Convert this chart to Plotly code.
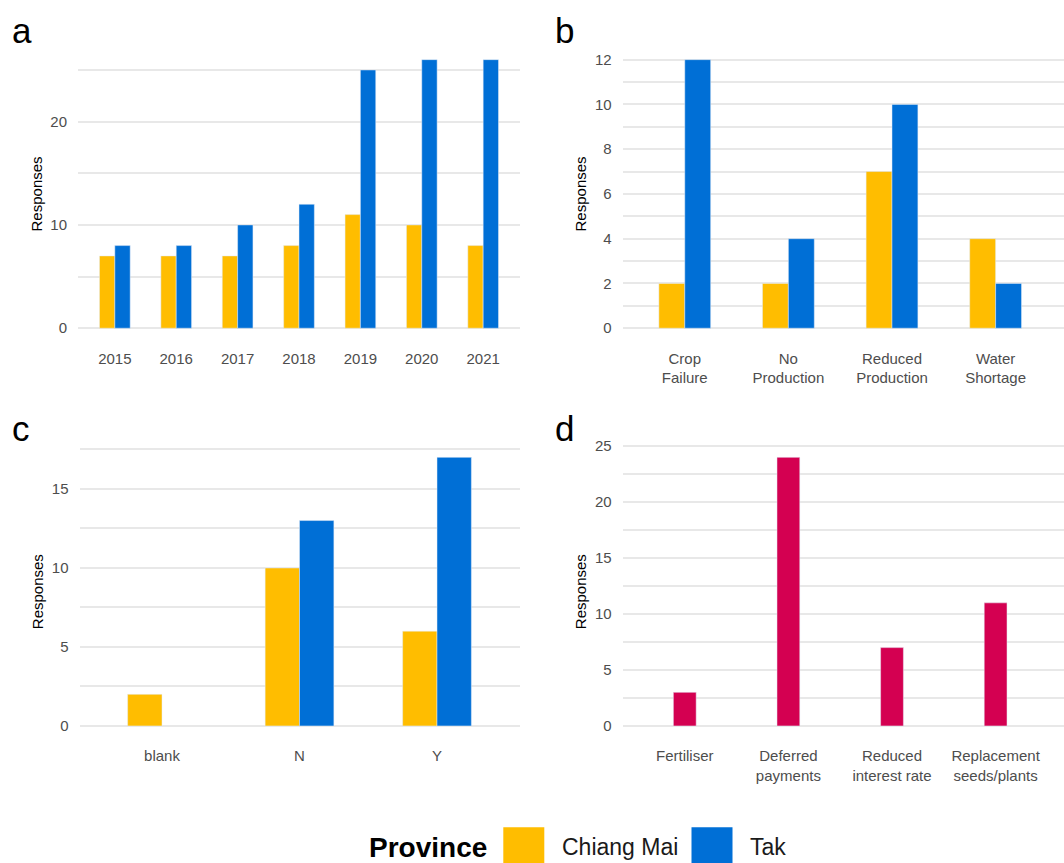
import plotly.graph_objects as go

W, H = 1064, 863

# Panel a: responses per year
years = ["2015", "2016", "2017", "2018", "2019", "2020", "2021"]
years_chiang_mai = [7, 7, 7, 8, 11, 10, 8]
years_tak = [8, 8, 10, 12, 25, 26, 26]

# Panel b: reported impacts
impact_categories = ["Crop Failure", "No Production", "Reduced Production", "Water Shortage"]
impact_labels = ["Crop<br>Failure", "No<br>Production", "Reduced<br>Production", "Water<br>Shortage"]
impact_chiang_mai = [2, 2, 7, 4]
impact_tak = [12, 4, 10, 2]

# Panel c: yes / no answers
answer_categories = ["blank", "N", "Y"]
answer_chiang_mai = [2, 10, 6]
answer_tak = [None, 13, 17]

# Panel d: support requested
support_categories = ["Fertiliser", "Deferred payments", "Reduced interest rate", "Replacement seeds/plants"]
support_labels = ["Fertiliser", "Deferred<br>payments", "Reduced<br>interest rate", "Replacement<br>seeds/plants"]
support_responses = [3, 24, 7, 11]

provinces = ["Chiang Mai", "Tak"]
YELLOW = "#FFBD00"
BLUE = "#006FD6"
CRIMSON = "#D40051"
GRID = "#E8E8E8"
FONT = "Liberation Sans, Arial, sans-serif"


def px_x(a, b):
    return [a / W, b / W]


def px_y(top, bottom):
    return [1 - bottom / H, 1 - top / H]


fig = go.Figure()

fig.add_trace(go.Bar(x=years, y=years_chiang_mai, name=provinces[0], marker_color=YELLOW,
                     xaxis="x", yaxis="y", showlegend=False))
fig.add_trace(go.Bar(x=years, y=years_tak, name=provinces[1], marker_color=BLUE,
                     xaxis="x", yaxis="y", showlegend=False))

fig.add_trace(go.Bar(x=impact_categories, y=impact_chiang_mai, name=provinces[0], marker_color=YELLOW,
                     xaxis="x2", yaxis="y2", showlegend=False))
fig.add_trace(go.Bar(x=impact_categories, y=impact_tak, name=provinces[1], marker_color=BLUE,
                     xaxis="x2", yaxis="y2", showlegend=False))

fig.add_trace(go.Bar(x=answer_categories, y=answer_chiang_mai, name=provinces[0], marker_color=YELLOW,
                     xaxis="x3", yaxis="y3", showlegend=False))
fig.add_trace(go.Bar(x=answer_categories, y=answer_tak, name=provinces[1], marker_color=BLUE,
                     xaxis="x3", yaxis="y3", showlegend=False))

fig.add_trace(go.Bar(x=support_categories, y=support_responses, marker_color=CRIMSON,
                     width=0.22, xaxis="x4", yaxis="y4", showlegend=False))

tick_font = dict(family=FONT, size=15, color="#4D4D4D")
title_font = dict(family=FONT, size=15, color="#000000")


def xaxis(domain, anchor, cats, labels, right):
    return dict(domain=domain, anchor=anchor, type="category",
                categoryorder="array", categoryarray=cats,
                tickmode="array", tickvals=cats, ticktext=labels,
                range=[-0.6, len(cats) - 1 + right],
                showgrid=False, zeroline=False, showline=False,
                ticks="outside", ticklen=3, tickcolor="rgba(0,0,0,0)",
                tickfont=tick_font, fixedrange=True)


def yaxis(domain, anchor, rng, dtick):
    return dict(domain=domain, anchor=anchor, range=rng, dtick=dtick, tick0=0,
                showgrid=True, gridcolor=GRID, gridwidth=2,
                minor=dict(dtick=dtick / 2, tick0=0, showgrid=True, gridcolor=GRID, gridwidth=2),
                zeroline=False, showline=False,
                ticks="outside", ticklen=7, tickcolor="rgba(0,0,0,0)",
                tickfont=tick_font,
                title=dict(text="Responses", font=title_font, standoff=4),
                fixedrange=True)


top_row = px_y(40.5, 338)
bottom_row = px_y(441, 738.5)

fig.update_layout(
    width=W, height=H,
    margin=dict(l=0, r=0, t=0, b=0),
    paper_bgcolor="white", plot_bgcolor="white",
    barmode="group", bargap=0.5, bargroupgap=0,
    font=dict(family=FONT),
    xaxis=xaxis(px_x(78, 520), "y", years, years, 0.6),
    yaxis=yaxis(top_row, "x", [-1.3, 27.3], 10),
    xaxis2=xaxis(px_x(622.6, 1064), "y2", impact_categories, impact_labels, 0.66),
    yaxis2=yaxis(top_row, "x2", [-0.6, 12.6], 2),
    xaxis3=xaxis(px_x(79.5, 519.5), "y3", answer_categories, answer_categories, 0.6),
    yaxis3=yaxis(bottom_row, "x3", [-0.85, 17.85], 5),
    xaxis4=xaxis(px_x(622.6, 1064), "y4", support_categories, support_labels, 0.66),
    yaxis4=yaxis(bottom_row, "x4", [-1.2, 25.2], 5),
)

# Panel tags
for tag, x, y in [("a", 10, 25), ("b", 553, 25), ("c", 10, 425), ("d", 553, 425)]:
    fig.add_annotation(text=tag, x=x / W, y=1 - y / H, xref="paper", yref="paper",
                       xanchor="left", yanchor="middle", showarrow=False,
                       font=dict(family=FONT, size=35, color="#000000"))

# Legend drawn along the bottom edge
fig.add_annotation(text="<b>Province</b>", x=367 / W, y=1 - 847 / H, xref="paper", yref="paper",
                   xanchor="left", yanchor="middle", showarrow=False,
                   font=dict(family=FONT, size=28, color="#000000"))
legend_keys = [(provinces[0], YELLOW, 503.3, 560), (provinces[1], BLUE, 691.5, 748)]
for name, color, kx, tx in legend_keys:
    fig.add_shape(type="rect", xref="paper", yref="paper",
                  x0=kx / W, x1=(kx + 41) / W, y0=1 - 868 / H, y1=1 - 827 / H,
                  fillcolor=color, line=dict(width=0), layer="above")
    fig.add_annotation(text=name, x=tx / W, y=1 - 847 / H, xref="paper", yref="paper",
                       xanchor="left", yanchor="middle", showarrow=False,
                       font=dict(family=FONT, size=23, color="#1A1A1A"))

fig.write_html("out.html")
